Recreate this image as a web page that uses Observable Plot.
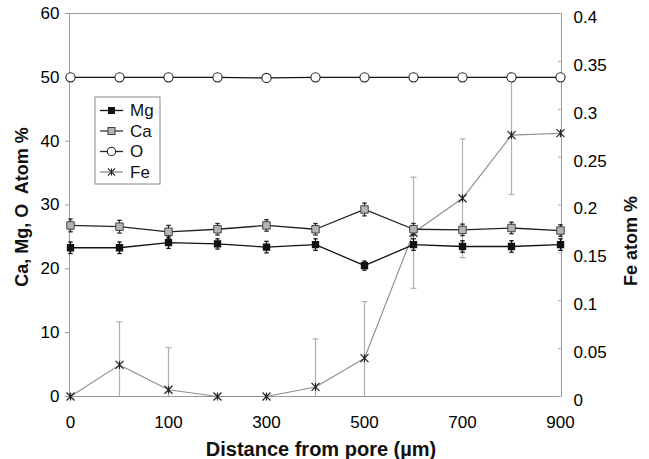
<!DOCTYPE html>
<html>
<head>
<meta charset="utf-8">
<script src="https://cdn.jsdelivr.net/npm/d3@7"></script>
<script src="https://cdn.jsdelivr.net/npm/@observablehq/plot@0.6"></script>
<style>
  html, body { margin: 0; padding: 0; background: #fff; }
  #chart { width: 649px; height: 459px; }
</style>
</head>
<body>
<div id="chart"></div>
<script>
// ---- data ----
const categories = [0, 50, 100, 200, 300, 400, 500, 600, 700, 800, 900];
const mg    = [23.3, 23.3, 24.1, 23.9, 23.4, 23.8, 20.5, 23.8, 23.5, 23.5, 23.8];
const mgErr = [0.9, 0.9, 0.9, 0.8, 0.9, 0.9, 0.7, 0.9, 0.9, 0.9, 0.9];
const ca    = [26.8, 26.6, 25.8, 26.2, 26.8, 26.2, 29.3, 26.2, 26.1, 26.4, 26.0];
const caErr = [1.0, 1.0, 1.0, 0.9, 0.9, 0.9, 1.0, 0.9, 0.9, 0.9, 0.9];
const oxy   = [50, 50, 50, 50, 49.9, 50, 50, 50, 50, 50, 50];
const fe    = [0, 0.033, 0.007, 0, 0, 0.01, 0.04, 0.171, 0.207, 0.273, 0.275];
const feErr = [0, 0.045, 0.044, 0, 0, 0.05, 0.059, 0.058, 0.062, 0.062, 0];
const xTicks = [0, 100, 300, 500, 700, 900];
const leftTicks = [0, 10, 20, 30, 40, 50, 60];
const feTicks = [0, 0.05, 0.1, 0.15, 0.2, 0.25, 0.3, 0.35, 0.4];
const seriesNames = ["Mg", "Ca", "O", "Fe"];
const feToLeft = 60 / 0.4; // right axis 0..0.4 aligned with left 0..60

const rows = categories.map((d, i) => ({
  d, mg: mg[i], mgErr: mgErr[i], ca: ca[i], caErr: caErr[i],
  o: oxy[i], fe: fe[i] * feToLeft, feErr: feErr[i] * feToLeft
}));
const feRows = rows.filter(r => r.feErr > 0);

// custom symbols
const capSymbol = { draw(ctx, size) { const w = Math.sqrt(size / Math.PI); ctx.moveTo(-w, 0); ctx.lineTo(w, 0); } };
const starSymbol = { draw(ctx, size) {
  const w = Math.sqrt(size / Math.PI);
  ctx.moveTo(-w, -w); ctx.lineTo(w, w);
  ctx.moveTo(-w, w); ctx.lineTo(w, -w);
  ctx.moveTo(0, -w); ctx.lineTo(0, w);
} };

const font = "'Liberation Sans', Arial, sans-serif";

const svg = Plot.plot({
  width: 649, height: 459,
  marginLeft: 69, marginRight: 88, marginTop: 13, marginBottom: 63,
  x: { type: "point", domain: categories, padding: 0 },
  y: { domain: [0, 60] },
  style: { fontFamily: font, fontSize: "17px", background: "#fff", color: "#000" },
  marks: [
    Plot.frame({ stroke: "#9a9a9a" }),
    Plot.axisX(xTicks, { tickSize: 0, tickPadding: 19, label: null, fontSize: 17 }),
    Plot.axisY(leftTicks, { anchor: "left", tickSize: 4, tickPadding: 6, label: null, stroke: "#999", fill: "#000", fontSize: 17 }),
    Plot.axisY(feTicks.map(v => v * feToLeft), { anchor: "right", tickSize: 0, tickPadding: 12, dy: 4, label: null, fill: "#000", fontSize: 17,
      tickFormat: v => String(+(v / feToLeft).toFixed(2)) }),
    Plot.axisY(feTicks.map(v => v * feToLeft), { anchor: "right", tickSize: -4, label: null, stroke: "#aaa", text: null }),

    // Fe error bars (light grey, clipped at 0)
    Plot.ruleX(feRows, { x: "d", y1: r => Math.max(0, r.fe - r.feErr), y2: r => r.fe + r.feErr, stroke: "#b0b0b0", strokeWidth: 1.2 }),
    Plot.dot(feRows, { x: "d", y: r => r.fe + r.feErr, symbol: capSymbol, r: 3, stroke: "#b0b0b0", strokeWidth: 1.2 }),
    Plot.dot(feRows.filter(r => r.fe - r.feErr > 0), { x: "d", y: r => r.fe - r.feErr, symbol: capSymbol, r: 3, stroke: "#b0b0b0", strokeWidth: 1.2 }),
    // Fe line
    Plot.line(rows, { x: "d", y: "fe", stroke: "#8c8c8c", strokeWidth: 1.1 }),
    Plot.dot(rows, { x: "d", y: "fe", symbol: starSymbol, r: 4, stroke: "#222", strokeWidth: 1.2 }),

    // O
    Plot.line(rows, { x: "d", y: "o", stroke: "#111", strokeWidth: 1.3 }),
    Plot.dot(rows, { x: "d", y: "o", symbol: "circle", r: 4.6, fill: "#fff", stroke: "#222", strokeWidth: 1.1 }),

    // Ca
    Plot.ruleX(rows, { x: "d", y1: r => r.ca - r.caErr, y2: r => r.ca + r.caErr, stroke: "#222", strokeWidth: 1.2 }),
    Plot.dot(rows, { x: "d", y: r => r.ca + r.caErr, symbol: capSymbol, r: 2.2, stroke: "#222", strokeWidth: 1.3 }),
    Plot.dot(rows, { x: "d", y: r => r.ca - r.caErr, symbol: capSymbol, r: 2.2, stroke: "#222", strokeWidth: 1.3 }),
    Plot.line(rows, { x: "d", y: "ca", stroke: "#222", strokeWidth: 1.3 }),
    Plot.dot(rows, { x: "d", y: "ca", symbol: "square", r: 4.2, fill: "#b4b4b4", stroke: "#444", strokeWidth: 1 }),

    // Mg
    Plot.ruleX(rows, { x: "d", y1: r => r.mg - r.mgErr, y2: r => r.mg + r.mgErr, stroke: "#111", strokeWidth: 1.2 }),
    Plot.dot(rows, { x: "d", y: r => r.mg + r.mgErr, symbol: capSymbol, r: 2.2, stroke: "#111", strokeWidth: 1.3 }),
    Plot.dot(rows, { x: "d", y: r => r.mg - r.mgErr, symbol: capSymbol, r: 2.2, stroke: "#111", strokeWidth: 1.3 }),
    Plot.line(rows, { x: "d", y: "mg", stroke: "#111", strokeWidth: 1.3 }),
    Plot.dot(rows, { x: "d", y: "mg", symbol: "square", r: 3.3, fill: "#111", stroke: "#111" })
  ]
});

const s = d3.select(svg);
// axis titles
s.append("text").attr("transform", "translate(22,207) rotate(-90)")
  .attr("text-anchor", "middle").attr("dominant-baseline", "central")
  .attr("font-family", font).attr("font-weight", "bold").attr("font-size", 18)
  .attr("fill", "#111").attr("xml:space", "preserve").text("Ca, Mg, O  Atom %");
s.append("text").attr("transform", "translate(631,241) rotate(-90)")
  .attr("text-anchor", "middle").attr("dominant-baseline", "central")
  .attr("font-family", font).attr("font-weight", "bold").attr("font-size", 18)
  .attr("fill", "#111").text("Fe atom %");
s.append("text").attr("x", 321).attr("y", 449)
  .attr("text-anchor", "middle").attr("dominant-baseline", "central")
  .attr("font-family", font).attr("font-weight", "bold").attr("font-size", 20)
  .attr("fill", "#111").text("Distance from pore (µm)");

// legend
const lg = s.append("g").attr("transform", "translate(95,97)");
lg.append("rect").attr("width", 65).attr("height", 87).attr("fill", "#fff").attr("stroke", "#888").attr("stroke-width", 1);
const legendStyles = [
  { line: "#111", sym: d3.symbolSquare, size: 34, fill: "#111", stroke: "#111" },
  { line: "#333", sym: d3.symbolSquare, size: 50, fill: "#b4b4b4", stroke: "#444" },
  { line: "#222", sym: d3.symbolCircle, size: 55, fill: "#fff", stroke: "#222" },
  { line: "#8c8c8c", sym: starSymbol, size: 40, fill: "none", stroke: "#222" }
];
seriesNames.forEach((name, i) => {
  const y = 13.5 + i * 20.5;
  const st = legendStyles[i];
  lg.append("line").attr("x1", 5).attr("x2", 28).attr("y1", y).attr("y2", y)
    .attr("stroke", st.line).attr("stroke-width", 1.3);
  lg.append("path").attr("transform", `translate(16.5,${y})`)
    .attr("d", d3.symbol(st.sym, st.size)())
    .attr("fill", st.fill).attr("stroke", st.stroke).attr("stroke-width", 1.1);
  lg.append("text").attr("x", 35).attr("y", y).attr("dominant-baseline", "central")
    .attr("text-anchor", "start")
    .attr("font-family", font).attr("font-size", 17).attr("fill", "#111").text(name);
});

document.getElementById("chart").appendChild(svg);
</script>
</body>
</html>
